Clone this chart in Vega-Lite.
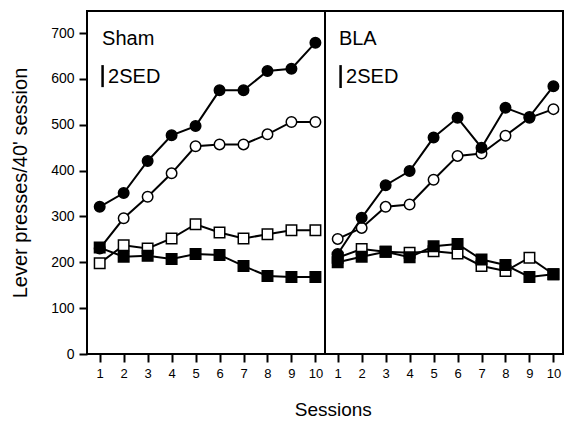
{
  "$schema": "https://vega.github.io/schema/vega-lite/v6.json",
  "padding": {"left": 10, "top": 10, "right": 2, "bottom": 4},
  "background": "white",
  "bounds": "flush",
  "title": {"text": "Sessions", "orient": "bottom", "anchor": "middle", "frame": "bounds", "fontSize": 19, "fontWeight": "normal", "font": "Liberation Sans", "color": "black", "offset": 21, "dx": 46},
  "data": {"values": [
    {"group": "Sham", "kind": "data", "series": "OC", "marker": "circle", "fill": "open", "session": 1, "value": 230},
    {"group": "Sham", "kind": "data", "series": "OC", "marker": "circle", "fill": "open", "session": 2, "value": 296},
    {"group": "Sham", "kind": "data", "series": "OC", "marker": "circle", "fill": "open", "session": 3, "value": 343},
    {"group": "Sham", "kind": "data", "series": "OC", "marker": "circle", "fill": "open", "session": 4, "value": 394},
    {"group": "Sham", "kind": "data", "series": "OC", "marker": "circle", "fill": "open", "session": 5, "value": 453},
    {"group": "Sham", "kind": "data", "series": "OC", "marker": "circle", "fill": "open", "session": 6, "value": 457},
    {"group": "Sham", "kind": "data", "series": "OC", "marker": "circle", "fill": "open", "session": 7, "value": 457},
    {"group": "Sham", "kind": "data", "series": "OC", "marker": "circle", "fill": "open", "session": 8, "value": 479},
    {"group": "Sham", "kind": "data", "series": "OC", "marker": "circle", "fill": "open", "session": 9, "value": 506},
    {"group": "Sham", "kind": "data", "series": "OC", "marker": "circle", "fill": "open", "session": 10, "value": 506},
    {"group": "Sham", "kind": "data", "series": "OS", "marker": "square", "fill": "open", "session": 1, "value": 198},
    {"group": "Sham", "kind": "data", "series": "OS", "marker": "square", "fill": "open", "session": 2, "value": 237},
    {"group": "Sham", "kind": "data", "series": "OS", "marker": "square", "fill": "open", "session": 3, "value": 230},
    {"group": "Sham", "kind": "data", "series": "OS", "marker": "square", "fill": "open", "session": 4, "value": 252},
    {"group": "Sham", "kind": "data", "series": "OS", "marker": "square", "fill": "open", "session": 5, "value": 283},
    {"group": "Sham", "kind": "data", "series": "OS", "marker": "square", "fill": "open", "session": 6, "value": 265},
    {"group": "Sham", "kind": "data", "series": "OS", "marker": "square", "fill": "open", "session": 7, "value": 252},
    {"group": "Sham", "kind": "data", "series": "OS", "marker": "square", "fill": "open", "session": 8, "value": 261},
    {"group": "Sham", "kind": "data", "series": "OS", "marker": "square", "fill": "open", "session": 9, "value": 270},
    {"group": "Sham", "kind": "data", "series": "OS", "marker": "square", "fill": "open", "session": 10, "value": 270},
    {"group": "Sham", "kind": "data", "series": "FC", "marker": "circle", "fill": "filled", "session": 1, "value": 321},
    {"group": "Sham", "kind": "data", "series": "FC", "marker": "circle", "fill": "filled", "session": 2, "value": 351},
    {"group": "Sham", "kind": "data", "series": "FC", "marker": "circle", "fill": "filled", "session": 3, "value": 421},
    {"group": "Sham", "kind": "data", "series": "FC", "marker": "circle", "fill": "filled", "session": 4, "value": 477},
    {"group": "Sham", "kind": "data", "series": "FC", "marker": "circle", "fill": "filled", "session": 5, "value": 497},
    {"group": "Sham", "kind": "data", "series": "FC", "marker": "circle", "fill": "filled", "session": 6, "value": 575},
    {"group": "Sham", "kind": "data", "series": "FC", "marker": "circle", "fill": "filled", "session": 7, "value": 575},
    {"group": "Sham", "kind": "data", "series": "FC", "marker": "circle", "fill": "filled", "session": 8, "value": 617},
    {"group": "Sham", "kind": "data", "series": "FC", "marker": "circle", "fill": "filled", "session": 9, "value": 622},
    {"group": "Sham", "kind": "data", "series": "FC", "marker": "circle", "fill": "filled", "session": 10, "value": 679},
    {"group": "Sham", "kind": "data", "series": "FS", "marker": "square", "fill": "filled", "session": 1, "value": 232},
    {"group": "Sham", "kind": "data", "series": "FS", "marker": "square", "fill": "filled", "session": 2, "value": 212},
    {"group": "Sham", "kind": "data", "series": "FS", "marker": "square", "fill": "filled", "session": 3, "value": 214},
    {"group": "Sham", "kind": "data", "series": "FS", "marker": "square", "fill": "filled", "session": 4, "value": 207},
    {"group": "Sham", "kind": "data", "series": "FS", "marker": "square", "fill": "filled", "session": 5, "value": 218},
    {"group": "Sham", "kind": "data", "series": "FS", "marker": "square", "fill": "filled", "session": 6, "value": 216},
    {"group": "Sham", "kind": "data", "series": "FS", "marker": "square", "fill": "filled", "session": 7, "value": 192},
    {"group": "Sham", "kind": "data", "series": "FS", "marker": "square", "fill": "filled", "session": 8, "value": 170},
    {"group": "Sham", "kind": "data", "series": "FS", "marker": "square", "fill": "filled", "session": 9, "value": 168},
    {"group": "Sham", "kind": "data", "series": "FS", "marker": "square", "fill": "filled", "session": 10, "value": 168},
    {"group": "BLA", "kind": "data", "series": "OC", "marker": "circle", "fill": "open", "session": 1, "value": 251},
    {"group": "BLA", "kind": "data", "series": "OC", "marker": "circle", "fill": "open", "session": 2, "value": 275},
    {"group": "BLA", "kind": "data", "series": "OC", "marker": "circle", "fill": "open", "session": 3, "value": 321},
    {"group": "BLA", "kind": "data", "series": "OC", "marker": "circle", "fill": "open", "session": 4, "value": 326},
    {"group": "BLA", "kind": "data", "series": "OC", "marker": "circle", "fill": "open", "session": 5, "value": 380},
    {"group": "BLA", "kind": "data", "series": "OC", "marker": "circle", "fill": "open", "session": 6, "value": 432},
    {"group": "BLA", "kind": "data", "series": "OC", "marker": "circle", "fill": "open", "session": 7, "value": 437},
    {"group": "BLA", "kind": "data", "series": "OC", "marker": "circle", "fill": "open", "session": 8, "value": 476},
    {"group": "BLA", "kind": "data", "series": "OC", "marker": "circle", "fill": "open", "session": 9, "value": 515},
    {"group": "BLA", "kind": "data", "series": "OC", "marker": "circle", "fill": "open", "session": 10, "value": 534},
    {"group": "BLA", "kind": "data", "series": "OS", "marker": "square", "fill": "open", "session": 1, "value": 210},
    {"group": "BLA", "kind": "data", "series": "OS", "marker": "square", "fill": "open", "session": 2, "value": 229},
    {"group": "BLA", "kind": "data", "series": "OS", "marker": "square", "fill": "open", "session": 3, "value": 223},
    {"group": "BLA", "kind": "data", "series": "OS", "marker": "square", "fill": "open", "session": 4, "value": 221},
    {"group": "BLA", "kind": "data", "series": "OS", "marker": "square", "fill": "open", "session": 5, "value": 224},
    {"group": "BLA", "kind": "data", "series": "OS", "marker": "square", "fill": "open", "session": 6, "value": 219},
    {"group": "BLA", "kind": "data", "series": "OS", "marker": "square", "fill": "open", "session": 7, "value": 192},
    {"group": "BLA", "kind": "data", "series": "OS", "marker": "square", "fill": "open", "session": 8, "value": 181},
    {"group": "BLA", "kind": "data", "series": "OS", "marker": "square", "fill": "open", "session": 9, "value": 210},
    {"group": "BLA", "kind": "data", "series": "OS", "marker": "square", "fill": "open", "session": 10, "value": 174},
    {"group": "BLA", "kind": "data", "series": "FC", "marker": "circle", "fill": "filled", "session": 1, "value": 218},
    {"group": "BLA", "kind": "data", "series": "FC", "marker": "circle", "fill": "filled", "session": 2, "value": 297},
    {"group": "BLA", "kind": "data", "series": "FC", "marker": "circle", "fill": "filled", "session": 3, "value": 368},
    {"group": "BLA", "kind": "data", "series": "FC", "marker": "circle", "fill": "filled", "session": 4, "value": 399},
    {"group": "BLA", "kind": "data", "series": "FC", "marker": "circle", "fill": "filled", "session": 5, "value": 472},
    {"group": "BLA", "kind": "data", "series": "FC", "marker": "circle", "fill": "filled", "session": 6, "value": 515},
    {"group": "BLA", "kind": "data", "series": "FC", "marker": "circle", "fill": "filled", "session": 7, "value": 450},
    {"group": "BLA", "kind": "data", "series": "FC", "marker": "circle", "fill": "filled", "session": 8, "value": 537},
    {"group": "BLA", "kind": "data", "series": "FC", "marker": "circle", "fill": "filled", "session": 9, "value": 517},
    {"group": "BLA", "kind": "data", "series": "FC", "marker": "circle", "fill": "filled", "session": 10, "value": 584},
    {"group": "BLA", "kind": "data", "series": "FS", "marker": "square", "fill": "filled", "session": 1, "value": 200},
    {"group": "BLA", "kind": "data", "series": "FS", "marker": "square", "fill": "filled", "session": 2, "value": 212},
    {"group": "BLA", "kind": "data", "series": "FS", "marker": "square", "fill": "filled", "session": 3, "value": 223},
    {"group": "BLA", "kind": "data", "series": "FS", "marker": "square", "fill": "filled", "session": 4, "value": 211},
    {"group": "BLA", "kind": "data", "series": "FS", "marker": "square", "fill": "filled", "session": 5, "value": 235},
    {"group": "BLA", "kind": "data", "series": "FS", "marker": "square", "fill": "filled", "session": 6, "value": 240},
    {"group": "BLA", "kind": "data", "series": "FS", "marker": "square", "fill": "filled", "session": 7, "value": 206},
    {"group": "BLA", "kind": "data", "series": "FS", "marker": "square", "fill": "filled", "session": 8, "value": 194},
    {"group": "BLA", "kind": "data", "series": "FS", "marker": "square", "fill": "filled", "session": 9, "value": 168},
    {"group": "BLA", "kind": "data", "series": "FS", "marker": "square", "fill": "filled", "session": 10, "value": 174},
    {"group": "Sham", "kind": "label", "session": 1.1, "value": 686, "label": "Sham"},
    {"group": "Sham", "kind": "label", "session": 1.35, "value": 604, "label": "2SED"},
    {"group": "BLA", "kind": "label", "session": 1.05, "value": 686, "label": "BLA"},
    {"group": "BLA", "kind": "label", "session": 1.35, "value": 604, "label": "2SED"},
    {"group": "Sham", "kind": "sed", "session": 1.12, "value": 582, "value2": 630},
    {"group": "BLA", "kind": "sed", "session": 1.12, "value": 580, "value2": 630}
  ]},
  "facet": {"column": {"field": "group", "type": "nominal", "sort": ["Sham", "BLA"], "header": {"labels": false, "title": null}}},
  "spacing": {"column": 0},
  "spec": {
    "width": 238,
    "height": 343,
    "encoding": {
      "x": {"field": "session", "type": "quantitative", "scale": {"domain": [0.47, 10.4], "nice": false, "zero": false},
            "axis": {"title": null, "values": [1,2,3,4,5,6,7,8,9,10], "tickCount": 10, "labelAngle": 0, "labelOverlap": false}},
      "y": {"field": "value", "type": "quantitative", "scale": {"domain": [0, 748], "nice": false},
            "axis": {"title": "Lever presses/40' session", "values": [0,100,200,300,400,500,600,700]}}
    },
    "layer": [
      {
        "transform": [{"filter": "datum.kind === 'data'"}],
        "mark": {"type": "line", "color": "black", "strokeWidth": 2},
        "encoding": {
          "detail": {"field": "series"}
        }
      },
      {
        "transform": [{"filter": "datum.kind === 'data'"}],
        "mark": {"type": "point", "filled": true, "stroke": "black", "strokeWidth": 1.5, "size": 110, "opacity": 1},
        "encoding": {
          "shape": {"field": "marker", "type": "nominal", "scale": {"domain": ["circle", "square"], "range": ["circle", "square"]}, "legend": null},
          "fill": {"field": "fill", "type": "nominal", "scale": {"domain": ["filled", "open"], "range": ["black", "white"]}, "legend": null}
        }
      },
      {
        "transform": [{"filter": "datum.kind === 'label'"}],
        "mark": {"type": "text", "align": "left", "baseline": "middle", "fontSize": 20, "font": "Liberation Sans", "color": "black"},
        "encoding": {
          "text": {"field": "label"}
        }
      },
      {
        "transform": [{"filter": "datum.kind === 'sed'"}],
        "mark": {"type": "rule", "color": "black", "strokeWidth": 2.5},
        "encoding": {
          "y2": {"field": "value2"}
        }
      }
    ]
  },
  "config": {
    "font": "Liberation Sans",
    "view": {"stroke": "black", "strokeWidth": 2},
    "axis": {
      "domain": false, "grid": false, "ticks": true, "tickColor": "black", "tickWidth": 2, "tickSize": 8,
      "labelColor": "black", "labelFontSize": 14, "labelFont": "Liberation Sans", "labelPadding": 5,
      "titleColor": "black", "titleFontSize": 20, "titleFontWeight": "normal", "titleFont": "Liberation Sans", "titlePadding": 20
    },
    "axisX": {"labelOverlap": false, "labelFontSize": 13, "labelBound": false}
  }
}
